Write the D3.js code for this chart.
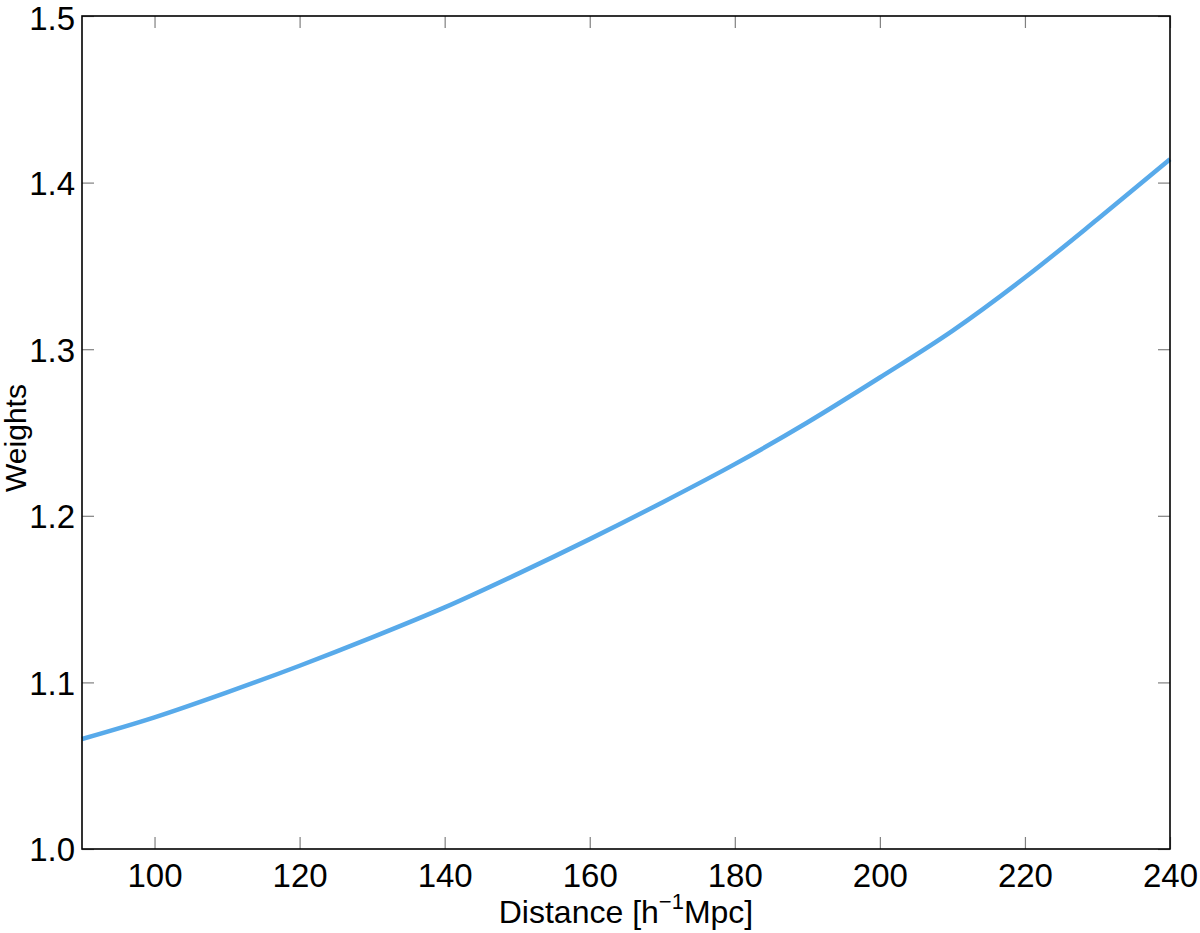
<!DOCTYPE html>
<html>
<head>
<meta charset="utf-8">
<script src="https://cdn.jsdelivr.net/npm/d3@7"></script>
<style>
  html, body { margin: 0; padding: 0; background: #fff; }
  svg { display: block; font-family: "Liberation Sans", Arial, Helvetica, sans-serif; }
</style>
</head>
<body>
<svg id="chart" width="1200" height="933"></svg>
<script>
// Data
const distance = [90, 100, 110, 120, 130, 140, 150, 160, 170, 180, 190, 200, 210, 220, 230, 240];
const weights  = [1.066, 1.079, 1.094, 1.110, 1.127, 1.145, 1.165, 1.186, 1.208, 1.231, 1.256, 1.283, 1.311, 1.343, 1.378, 1.414];
const xTicks = [100, 120, 140, 160, 180, 200, 220, 240];
const yTicks = [1.0, 1.1, 1.2, 1.3, 1.4, 1.5];
const xDomain = [90, 240];
const yDomain = [1.0, 1.5];

const svg = d3.select("#chart");
const W = 1200, H = 933;
const m = { left: 82, right: 30, top: 16, bottom: 84 };
const x0 = m.left, x1 = W - m.right, y0 = H - m.bottom, y1 = m.top;

svg.append("rect").attr("width", W).attr("height", H).attr("fill", "#fff");

const x = d3.scaleLinear().domain(xDomain).range([x0, x1]);
const y = d3.scaleLinear().domain(yDomain).range([y0, y1]);

const tickLen = 12;
const tickColor = "#808080";
const tickFont = 33;

const xAxisB = d3.axisBottom(x).tickValues(xTicks).tickSize(-tickLen).tickPadding(15).tickFormat(d3.format("d"));
const gxb = svg.append("g").attr("transform", `translate(0,${y0})`).call(xAxisB);
const xAxisT = d3.axisTop(x).tickValues(xTicks).tickSize(-tickLen).tickFormat("");
const gxt = svg.append("g").attr("transform", `translate(0,${y1})`).call(xAxisT);
const yAxisL = d3.axisLeft(y).tickValues(yTicks).tickSize(-tickLen).tickPadding(7).tickFormat(d3.format(".1f"));
const gyl = svg.append("g").attr("transform", `translate(${x0},0)`).call(yAxisL);
const yAxisR = d3.axisRight(y).tickValues(yTicks).tickSize(-tickLen).tickFormat("");
const gyr = svg.append("g").attr("transform", `translate(${x1},0)`).call(yAxisR);

[gxb, gxt, gyl, gyr].forEach(g => {
  g.select(".domain").remove();
  g.selectAll(".tick line").attr("stroke", tickColor).attr("stroke-width", 1.2);
  g.selectAll(".tick text").attr("fill", "#000").attr("font-size", tickFont)
    .attr("font-family", "'Liberation Sans', Arial, Helvetica, sans-serif");
});
gxb.selectAll(".tick text").attr("dy", "0.71em");
gyl.selectAll(".tick text").attr("dy", "0.36em");
// keep the top label inside the picture
gyl.selectAll(".tick text").filter(d => d === 1.5).attr("dy", "0.42em");

// Line
const line = d3.line().x((d, i) => x(distance[i])).y(d => y(d)).curve(d3.curveMonotoneX);
svg.append("path").datum(weights)
  .attr("d", line)
  .attr("fill", "none")
  .attr("stroke", "#58aaea")
  .attr("stroke-width", 4.5)
  .attr("stroke-linejoin", "round");

// Frame
svg.append("rect")
  .attr("x", x0).attr("y", y1)
  .attr("width", x1 - x0).attr("height", y0 - y1)
  .attr("fill", "none").attr("stroke", "#000").attr("stroke-width", 1.6);

// Axis titles
const xt = svg.append("text")
  .attr("x", (x0 + x1) / 2).attr("y", 923)
  .attr("text-anchor", "middle")
  .attr("font-size", 32).attr("fill", "#000");
xt.append("tspan").text("Distance [h");
xt.append("tspan").text("\u22121").attr("font-size", 22).attr("dy", -14);
xt.append("tspan").text("Mpc]").attr("dy", 14);

svg.append("text")
  .attr("transform", `translate(26,438) rotate(-90)`)
  .attr("text-anchor", "middle")
  .attr("font-size", 30).attr("fill", "#000")
  .text("Weights");
</script>
</body>
</html>
